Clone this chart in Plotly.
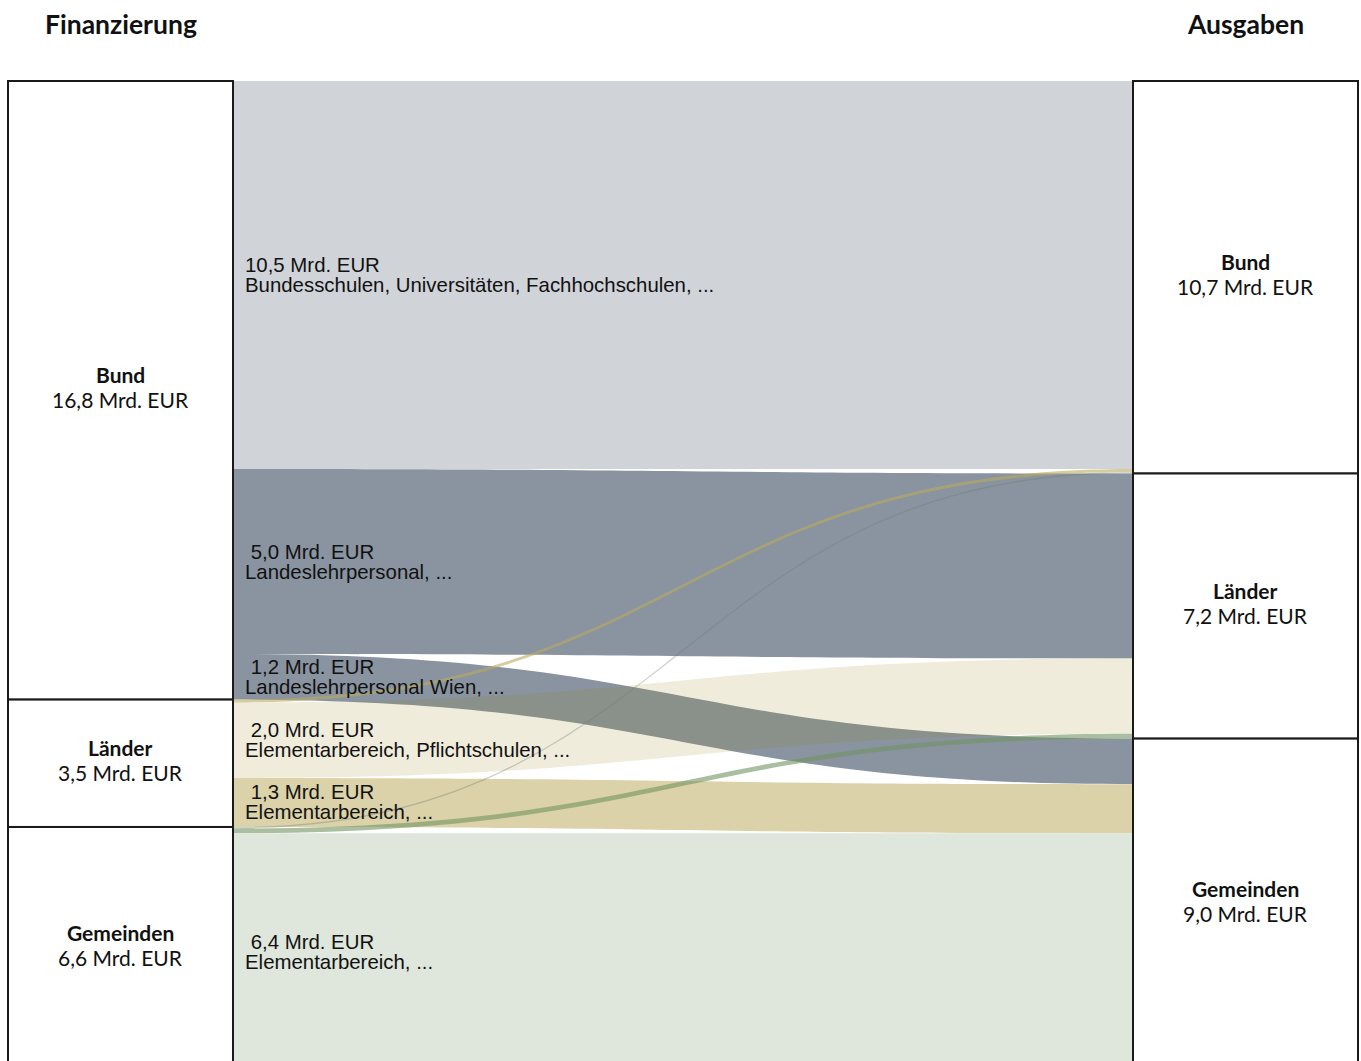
import plotly.graph_objects as go

# ---------------- data ----------------
node_names = ["Bund", "Länder", "Gemeinden", "Bund", "Länder", "Gemeinden"]
column_titles = ["Finanzierung", "Ausgaben"]

link_source = [0, 0, 0, 1, 1, 1, 2, 2, 2]
link_target = [3, 4, 5, 3, 4, 5, 3, 4, 5]
link_value = [10.54, 5.02, 1.24, 0.08, 2.05, 1.33, 0.04, 0.13, 6.43]
link_desc = [
    "Bundesschulen, Universitäten, Fachhochschulen, ...",
    "Landeslehrpersonal, ...",
    "Landeslehrpersonal Wien, ...",
    "",
    "Elementarbereich, Pflichtschulen, ...",
    "Elementarbereich, ...",
    "",
    "",
    "Elementarbereich, ...",
]
link_colors = [
    "rgb(208,212,217)",
    "rgb(137,148,160)",
    "rgb(137,148,160)",
    "rgba(186,170,93,0.6)",
    "rgba(148,119,5,0.14)",
    "rgb(219,210,169)",
    "rgba(110,125,110,0.35)",
    "rgba(113,147,97,0.6)",
    "rgb(223,230,220)",
]

# ---------------- layout constants ----------------
W, H = 1361, 1070
ML, MR, MT, MB = 8, 3, 81, 0
PW = W - ML - MR
PH = H - MT - MB
THICK = 225


def fmt(v):
    return f"{v:.1f}".replace(".", ",") + " Mrd. EUR"


total = sum(link_value)
node_in = [0.0] * len(node_names)
node_out = [0.0] * len(node_names)
for s, t, v in zip(link_source, link_target, link_value):
    node_out[s] += v
    node_in[t] += v
node_val = [max(a, b) for a, b in zip(node_in, node_out)]

fig = go.Figure(
    go.Sankey(
        arrangement="fixed",
        domain=dict(x=[0, 1], y=[0, 1]),
        node=dict(
            label=["" for _ in node_names],
            customdata=node_names,
            hovertemplate="%{customdata}: %{value:.1f} Mrd. EUR<extra></extra>",
            pad=0,
            thickness=THICK,
            color="white",
            line=dict(color="#1a1a1a", width=2),
        ),
        link=dict(
            source=link_source,
            target=link_target,
            value=link_value,
            color=link_colors,
            line=dict(width=0),
            hovertemplate="%{value:.2f} Mrd. EUR<extra></extra>",
        ),
    )
)

ann = []
# column titles
title_y = 1 + (MT - 24) / PH
for i, t in enumerate(column_titles):
    cx = (THICK / 2) / PW if i == 0 else (PW - THICK / 2) / PW
    ann.append(dict(x=cx, y=title_y, xref="paper", yref="paper", text=f"<b>{t}</b>",
                    showarrow=False, xanchor="center", yanchor="middle",
                    font=dict(family="Lato", size=26.5, color="#111")))

# node labels
cum = {"L": 0.0, "R": 0.0}
for i, name in enumerate(node_names):
    side = "L" if i < 3 else "R"
    v = node_val[i]
    cfrac = (cum[side] + v / 2) / total
    cum[side] += v
    cy = 1 - cfrac
    cx = (THICK / 2) / PW if side == "L" else (PW - THICK / 2) / PW
    ann.append(dict(x=cx, y=cy, xref="paper", yref="paper", text=f"<b>{name}</b>",
                    showarrow=False, xanchor="center", yanchor="middle", yshift=15.5,
                    font=dict(family="Lato", size=21, color="#111")))
    ann.append(dict(x=cx, y=cy, xref="paper", yref="paper", text=fmt(v),
                    showarrow=False, xanchor="center", yanchor="middle", yshift=-9.5,
                    font=dict(family="Lato", size=21, color="#111")))

# link labels (placed at the link's left end)
c = 0.0
lx = (THICK + 12) / PW
for v, d in zip(link_value, link_desc):
    cy = 1 - (c + v / 2) / total
    c += v
    if not d:
        continue
    first = fmt(v)
    if v < 10:
        first = "\u00a0" + first
    ann.append(dict(x=lx, y=cy, xref="paper", yref="paper", text=first,
                    showarrow=False, xanchor="left", yanchor="middle", yshift=10,
                    xshift=-2,
                    font=dict(family="Liberation Sans, Arial", size=20.4, color="#111")))
    ann.append(dict(x=lx, y=cy, xref="paper", yref="paper", text=d,
                    showarrow=False, xanchor="left", yanchor="middle", yshift=-10,
                    xshift=-2,
                    font=dict(family="Liberation Sans, Arial", size=20.4, color="#111")))

fig.update_layout(
    width=W, height=H,
    margin=dict(l=ML, r=MR, t=MT, b=MB),
    paper_bgcolor="white",
    plot_bgcolor="white",
    annotations=ann,
    font=dict(family="Lato"),
)

fig.write_html("out.html")
